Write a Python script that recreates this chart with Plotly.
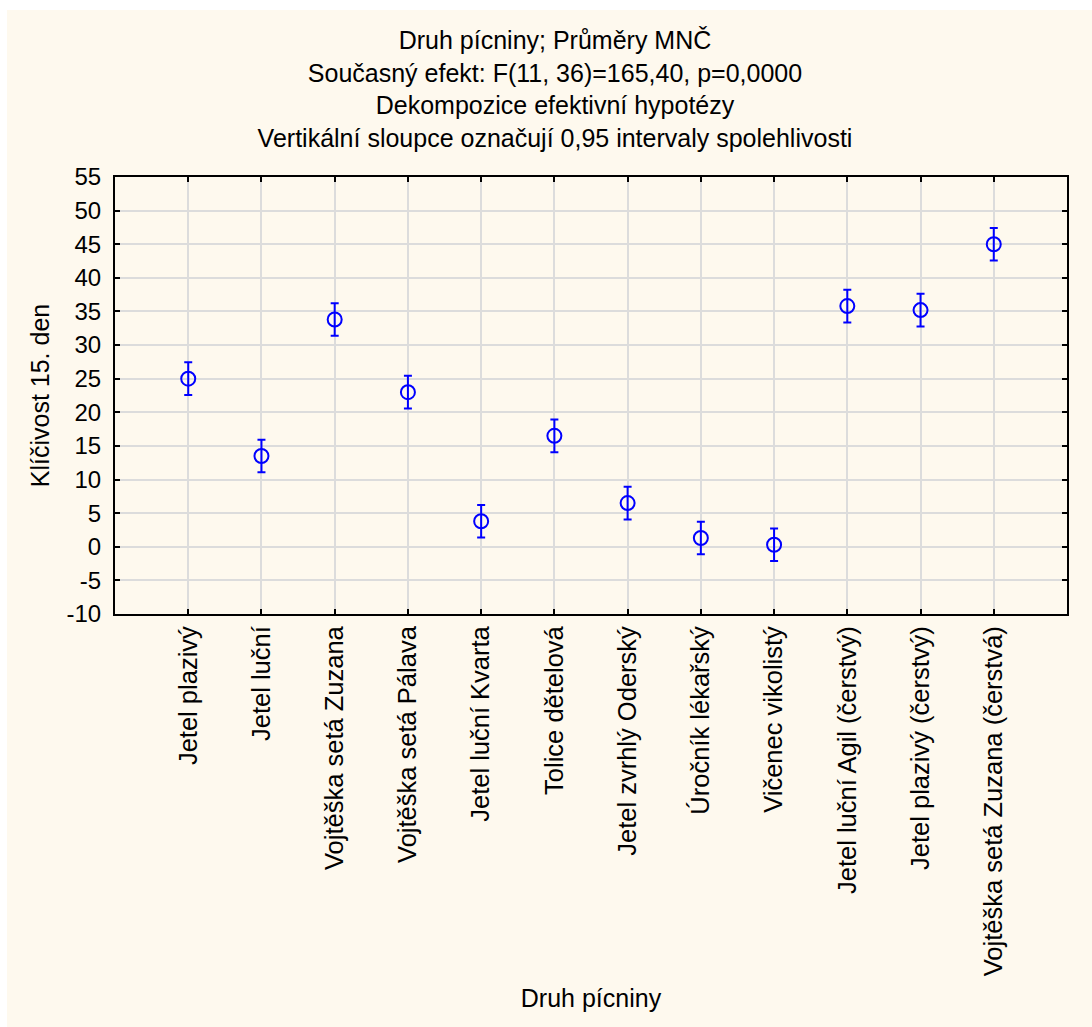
import plotly.graph_objects as go

# Least-squares means of 15th-day germination per forage species, with 0.95 CI half-widths
categories = [
    "Jetel plazivý",
    "Jetel luční",
    "Vojtěška setá Zuzana",
    "Vojtěška setá Pálava",
    "Jetel luční Kvarta",
    "Tolice dětelová",
    "Jetel zvrhlý Oderský",
    "Úročník lékařský",
    "Vičenec vikolistý",
    "Jetel luční Agil (čerstvý)",
    "Jetel plazivý (čerstvý)",
    "Vojtěška setá Zuzana (čerstvá)",
]
means = [25.0, 13.5, 33.8, 23.0, 3.8, 16.5, 6.5, 1.3, 0.3, 35.8, 35.2, 45.0]
ci_half = [2.43] * 12

y_ticks = [55, 50, 45, 40, 35, 30, 25, 20, 15, 10, 5, 0, -5, -10]

title_lines = [
    "Druh pícniny; Průměry MNČ",
    "Současný efekt: F(11, 36)=165,40, p=0,0000",
    "Dekompozice efektivní hypotézy",
    "Vertikální sloupce označují 0,95 intervaly spolehlivosti",
]

FONT = "Arial, Liberation Sans, sans-serif"
BLUE = "#0000FF"
CREAM = "#FEF9EE"

x_idx = list(range(len(categories)))

fig = go.Figure()
fig.add_trace(go.Scatter(
    x=x_idx,
    y=means,
    mode="markers",
    marker=dict(symbol="circle-open", size=14, color=BLUE, line=dict(width=2, color=BLUE)),
    error_y=dict(type="data", array=ci_half, visible=True, color=BLUE, thickness=2, width=4),
    showlegend=False,
    hoverinfo="x+y",
))

axis_common = dict(
    showline=True, linecolor="black", linewidth=2, mirror="ticks",
    ticks="inside", ticklen=5, tickcolor="black", tickwidth=1.5,
    showgrid=True, gridcolor="#DCDCDC", gridwidth=1.5, zeroline=False,
)

fig.update_layout(
    width=1092, height=1027,
    margin=dict(l=115, r=25, t=177, b=413),
    paper_bgcolor="white",
    plot_bgcolor="white",
    font=dict(family=FONT, color="black"),
    title=dict(
        text="<br>".join(title_lines),
        x=555 / 1092, xanchor="center", xref="container",
        y=1 - 49 / 1027, yanchor="top",
        font=dict(family=FONT, size=25, color="black"),
    ),
    xaxis=dict(
        axis_common,
        range=[-1, len(categories)],
        tickmode="array", tickvals=x_idx, ticktext=categories,
        tickangle=-90,
        tickfont=dict(family=FONT, size=25.5, color="black"),
        title=dict(text="Druh pícniny", font=dict(family=FONT, size=25, color="black"), standoff=14),
    ),
    yaxis=dict(
        axis_common,
        range=[-10, 55],
        tickmode="array", tickvals=y_ticks, ticktext=[str(v) for v in y_ticks],
        tickfont=dict(family=FONT, size=24, color="black"),
        ticklabelstandoff=7,
        title=dict(text="Klíčivost 15. den", font=dict(family=FONT, size=25, color="black"), standoff=10),
    ),
    shapes=[dict(
        type="rect", xref="paper", yref="paper",
        x0=-108 / 952, x1=1.03, y0=-414 / 437, y1=1 + 167 / 437,
        fillcolor=CREAM, line=dict(width=0), layer="below",
    )],
)

fig.write_html("out.html")
